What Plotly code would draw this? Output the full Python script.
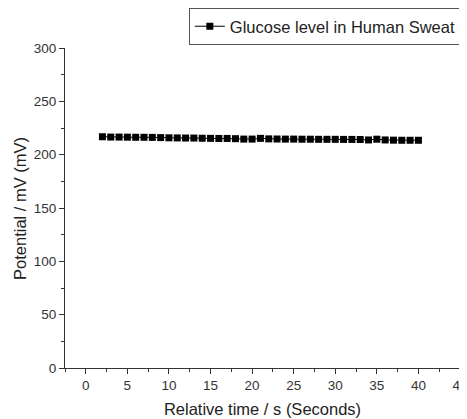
import plotly.graph_objects as go

time_s = list(range(2, 41))
potential_mv = [216.8, 216.5, 216.5, 216.4, 216.3, 216.3, 216.2, 216.0, 215.8, 215.7,
                215.6, 215.6, 215.4, 215.3, 215.2, 215.2, 215.0, 214.6, 214.6, 215.3,
                214.8, 214.7, 214.6, 214.6, 214.5, 214.5, 214.4, 214.4, 214.4, 214.3,
                214.3, 214.2, 213.8, 214.5, 213.8, 213.6, 213.5, 213.5, 213.5]
series_name = "Glucose level in Human Sweat"
x_title = "Relative time / s (Seconds)"
y_title = "Potential / mV (mV)"

FONT = "Liberation Sans, Arial"

fig = go.Figure()
fig.add_trace(go.Scatter(
    x=time_s, y=potential_mv, mode="lines+markers", name=series_name,
    line=dict(color="black", width=1),
    marker=dict(symbol="square", size=7, color="black"),
))

axis_common = dict(
    showline=True, linecolor="#333", linewidth=1.2, ticks="outside", ticklen=5,
    tickcolor="#333", showgrid=False, zeroline=False, mirror=False, automargin=True,
    ticklabeloverflow="allow",
    tickfont=dict(family=FONT, size=13.5, color="#333"),
)
fig.update_xaxes(range=[-2.5, 45], dtick=5, tick0=0,
                 minor=dict(ticks="outside", ticklen=3, dtick=2.5, tick0=0, tickcolor="#333"),
                 title=dict(text=x_title, font=dict(family=FONT, size=16.5, color="#222"), standoff=11),
                 **axis_common)
fig.update_yaxes(range=[0, 300], dtick=50,
                 minor=dict(ticks="outside", ticklen=3, dtick=25, tickcolor="#333"),
                 **axis_common)

fig.add_annotation(text=y_title, xref="paper", yref="paper", x=-0.114, y=0.5,
                   xanchor="center", yanchor="middle", textangle=-90, showarrow=False,
                   font=dict(family=FONT, size=16.5, color="#222"))

fig.update_layout(
    width=459, height=411,
    margin=dict(l=57, r=7, t=40, b=51, autoexpand=False),
    plot_bgcolor="white", paper_bgcolor="white",
    showlegend=True,
    legend=dict(xref="container", yref="container", x=0.394, y=1.0,
                xanchor="left", yanchor="top",
                bordercolor="#555", borderwidth=1, bgcolor="white",
                font=dict(family=FONT, size=16.5, color="#222"),
                itemwidth=30, tracegroupgap=0),
)
fig.write_html("out.html")
